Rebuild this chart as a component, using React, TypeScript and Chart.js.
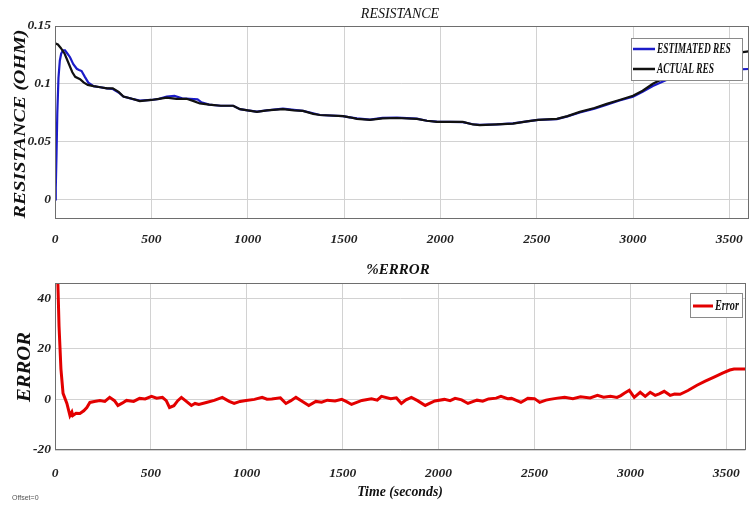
import React, { useEffect, useRef } from "react";
import { Chart, registerables } from "chart.js";

Chart.register(...registerables);

const xTicks = [0, 500, 1000, 1500, 2000, 2500, 3000, 3500];
const resTicks = [0, 0.05, 0.1, 0.15];
const errTicks = [-20, 0, 20, 40];

const actualTime = [0, 15, 30, 50, 70, 90, 105, 130, 150, 170, 200, 235, 270, 300, 330, 355, 400, 440, 500, 540, 580, 630, 683, 720, 752, 800, 860, 925, 960, 1000, 1048, 1100, 1183, 1240, 1287, 1340, 1375, 1495, 1530, 1567, 1635, 1700, 1775, 1878, 1930, 1982, 2117, 2169, 2205, 2294, 2377, 2450, 2507, 2605, 2660, 2724, 2800, 2864, 2930, 3000, 3050, 3103, 3176, 3250, 3320, 3400, 3480, 3550, 3600];
const actualRes = [0.135, 0.134, 0.131, 0.126, 0.118, 0.11, 0.106, 0.104, 0.101, 0.099, 0.098, 0.097, 0.096, 0.096, 0.093, 0.089, 0.087, 0.085, 0.086, 0.087, 0.088, 0.087, 0.087, 0.085, 0.083, 0.082, 0.081, 0.081, 0.078, 0.077, 0.0757, 0.077, 0.078, 0.077, 0.0765, 0.074, 0.073, 0.072, 0.071, 0.0696, 0.0687, 0.07, 0.0704, 0.0696, 0.068, 0.067, 0.067, 0.0648, 0.0643, 0.0648, 0.0655, 0.0675, 0.0687, 0.0696, 0.072, 0.0757, 0.079, 0.0826, 0.086, 0.0896, 0.094, 0.1, 0.106, 0.11, 0.114, 0.119, 0.123, 0.127, 0.128];

const estTime = [0, 4, 8, 12, 18, 25, 32, 42, 52, 65, 78, 95, 113, 125, 138, 155, 173, 200, 235, 270, 300, 330, 355, 400, 440, 500, 540, 580, 620, 660, 700, 740, 760, 800, 860, 925, 960, 1000, 1048, 1100, 1183, 1240, 1287, 1340, 1375, 1495, 1530, 1567, 1635, 1700, 1775, 1878, 1930, 1982, 2117, 2169, 2205, 2294, 2377, 2450, 2507, 2605, 2660, 2724, 2800, 2864, 2930, 3000, 3050, 3103, 3176, 3250, 3320, 3400, 3480, 3550, 3600];
const estRes = [0, 0.01, 0.04, 0.075, 0.105, 0.12, 0.126, 0.129, 0.129, 0.126, 0.123, 0.117, 0.113, 0.112, 0.111, 0.106, 0.101, 0.098, 0.097, 0.096, 0.0955, 0.0925, 0.089, 0.087, 0.0855, 0.086, 0.087, 0.089, 0.0895, 0.0875, 0.087, 0.0865, 0.084, 0.082, 0.081, 0.081, 0.078, 0.077, 0.076, 0.077, 0.0785, 0.0775, 0.0765, 0.0745, 0.073, 0.072, 0.071, 0.07, 0.069, 0.0705, 0.0708, 0.0698, 0.068, 0.0672, 0.0668, 0.065, 0.0645, 0.0648, 0.0657, 0.0675, 0.0688, 0.0695, 0.0718, 0.0752, 0.0785, 0.082, 0.0855, 0.0888, 0.093, 0.098, 0.1035, 0.1075, 0.109, 0.1105, 0.1115, 0.1125, 0.1128];

const errTime = [0, 10, 21, 31, 42, 62, 78, 88, 93, 110, 130, 150, 166, 182, 205, 234, 260, 285, 310, 328, 350, 373, 410, 441, 470, 503, 530, 560, 580, 597, 620, 640, 659, 680, 711, 730, 750, 789, 830, 872, 908, 934, 965, 996, 1040, 1080, 1105, 1130, 1175, 1204, 1230, 1256, 1290, 1323, 1360, 1390, 1420, 1460, 1495, 1520, 1546, 1600, 1650, 1680, 1702, 1750, 1780, 1806, 1830, 1858, 1890, 1930, 1980, 2030, 2060, 2086, 2120, 2153, 2200, 2230, 2260, 2300, 2325, 2360, 2380, 2429, 2465, 2500, 2527, 2560, 2580, 2620, 2657, 2700, 2740, 2790, 2828, 2860, 2896, 2930, 2950, 2968, 2994, 3020, 3051, 3077, 3103, 3129, 3150, 3176, 3207, 3230, 3259, 3300, 3347, 3390, 3436, 3480, 3518, 3540, 3600];
const errValues = [100, 60, 29, 12, 2.4, -1.6, -6.4, -5, -6.4, -5.5, -5.6, -4.5, -3.2, -1.2, -0.8, -0.4, -0.8, 0.8, -0.5, -2.4, -1.5, -0.4, -0.8, 0.4, 0.2, 1.2, 0.5, 0.8, -0.5, -3.2, -2.5, -0.5, 0.8, -0.5, -2.4, -1.6, -2, -1.2, -0.4, 0.8, -0.8, -1.6, -0.8, -0.4, 0, 0.8, 0.1, 0.2, 0.6, -1.6, -0.5, 0.8, -0.8, -2.4, -0.8, -1.1, -0.3, -0.6, 0, -0.9, -2, -0.4, 0.2, -0.3, 1.2, 0.3, 0.6, -1.6, -0.2, 0.8, -0.5, -2.4, -0.6, 0, -0.5, 0.4, -0.2, -1.6, -0.3, -0.7, 0.2, 0.5, 1.2, 0.3, 0.4, -1.2, 0.4, 0.3, -1.2, -0.3, 0, 0.5, 0.8, 0.3, 1, 0.6, 1.6, 0.9, 1.2, 0.8, 1.5, 2.4, 3.6, 0.8, 2.8, 1.2, 2.8, 1.6, 2.2, 3.2, 1.6, 2.1, 2, 3.5, 5.6, 7.2, 8.8, 10.4, 11.6, 12, 12];

const SERIF = "'Liberation Serif', 'Times New Roman', serif";
const GRID = "#d2d2d2";
const FRAME = "#6e6e6e";
const TICK_FONT = { family: SERIF, size: 13.5, style: "italic" as const, weight: "bold" as const };

const pts = (xs: number[], ys: number[]) => xs.map((x, i) => ({ x, y: ys[i] }));

function drawText(ctx: CanvasRenderingContext2D, text: string, x: number, y: number, font: string, opts: { rotate?: boolean; align?: CanvasTextAlign; sx?: number; color?: string } = {}) {
  ctx.save();
  ctx.translate(x, y);
  if (opts.rotate) ctx.rotate(-Math.PI / 2);
  ctx.scale(opts.sx ?? 1, 1);
  ctx.font = font;
  ctx.fillStyle = opts.color ?? "#111";
  ctx.textAlign = opts.align ?? "center";
  ctx.textBaseline = "middle";
  ctx.fillText(text, 0, 0);
  ctx.restore();
}

const framePlugin = {
  id: "frame",
  afterDraw(chart: any) {
    const { ctx, chartArea: a } = chart;
    ctx.save();
    ctx.strokeStyle = FRAME;
    ctx.lineWidth = 1;
    ctx.strokeRect(Math.round(a.left) + 0.5, Math.round(a.top) + 0.5, Math.round(a.right - a.left) - 1, Math.round(a.bottom - a.top) - 1);
    ctx.restore();
  },
};

function legendBox(ctx: CanvasRenderingContext2D, x: number, y: number, w: number, h: number) {
  ctx.save();
  ctx.fillStyle = "#fff";
  ctx.fillRect(x, y, w, h);
  ctx.strokeStyle = "#8a8a8a";
  ctx.lineWidth = 1;
  ctx.strokeRect(x + 0.5, y + 0.5, w, h);
  ctx.restore();
}

function sample(ctx: CanvasRenderingContext2D, x1: number, x2: number, y: number, color: string, w: number) {
  ctx.save();
  ctx.strokeStyle = color;
  ctx.lineWidth = w;
  ctx.beginPath();
  ctx.moveTo(x1, y);
  ctx.lineTo(x2, y);
  ctx.stroke();
  ctx.restore();
}

const topDecor = {
  id: "topDecor",
  afterDatasetsDraw(chart: any) {
    const ctx = chart.ctx as CanvasRenderingContext2D;
    legendBox(ctx, 631, 38, 111, 42);
    sample(ctx, 633, 655, 49, "#1c1cc8", 2.5);
    sample(ctx, 633, 655, 69, "#111", 2.5);
    drawText(ctx, "ESTIMATED RES", 657, 49, `italic bold 14px ${SERIF}`, { align: "left", sx: 0.67 });
    drawText(ctx, "ACTUAL RES", 657, 69, `italic bold 14px ${SERIF}`, { align: "left", sx: 0.67 });
  },
  afterDraw(chart: any) {
    const ctx = chart.ctx as CanvasRenderingContext2D;
    drawText(ctx, "RESISTANCE", 400, 14, `italic 14px ${SERIF}`);
    drawText(ctx, "RESISTANCE (OHM)", 21, 124, `italic bold 17px ${SERIF}`, { rotate: true, sx: 1.18 });
  },
};

const bottomDecor = {
  id: "bottomDecor",
  afterDatasetsDraw(chart: any) {
    const ctx = chart.ctx as CanvasRenderingContext2D;
    legendBox(ctx, 690, 43, 52, 24);
    sample(ctx, 693, 713, 56, "#e30000", 3);
    drawText(ctx, "Error", 715, 56, `italic bold 14px ${SERIF}`, { align: "left", sx: 0.73 });
  },
  afterDraw(chart: any) {
    const ctx = chart.ctx as CanvasRenderingContext2D;
    drawText(ctx, "%ERROR", 398, 20, `italic bold 15px ${SERIF}`);
    drawText(ctx, "ERROR", 25, 117, `italic bold 18px ${SERIF}`, { rotate: true, sx: 1.15 });
    drawText(ctx, "Time (seconds)", 400, 242, `italic bold 15px ${SERIF}`, { sx: 0.92 });
    drawText(ctx, "Offset=0", 12, 248, `7px 'Liberation Sans', sans-serif`, { align: "left", color: "#555" });
  },
};

function makeOptions(yMin: number, yMax: number, yTicks: number[], padTop: number, xHeight: number, xPad: number) {
  return {
    responsive: false,
    animation: false as const,
    events: [],
    layout: { padding: { top: padTop, right: 6, left: 0, bottom: 0 } },
    plugins: { legend: { display: false }, tooltip: { enabled: false }, title: { display: false } },
    scales: {
      x: {
        type: "linear" as const,
        min: 0,
        max: 3600,
        afterBuildTicks: (s: any) => { s.ticks = xTicks.map((v) => ({ value: v })); },
        afterFit: (s: any) => { s.height = xHeight; },
        grid: { color: GRID, drawTicks: false, lineWidth: 1 },
        border: { display: false },
        ticks: { padding: xPad, color: "#222", font: TICK_FONT, maxRotation: 0, autoSkip: false, callback: (v: any) => String(v) },
      },
      y: {
        type: "linear" as const,
        min: yMin,
        max: yMax,
        afterBuildTicks: (s: any) => { s.ticks = yTicks.map((v) => ({ value: v })); },
        afterFit: (s: any) => { s.width = 55; },
        grid: { color: GRID, drawTicks: false, lineWidth: 1 },
        border: { display: false },
        ticks: { padding: 4, color: "#222", font: TICK_FONT, autoSkip: false, callback: (v: any) => String(v) },
      },
    },
  };
}

export default function App() {
  const topRef = useRef<HTMLCanvasElement>(null);
  const botRef = useRef<HTMLCanvasElement>(null);

  useEffect(() => {
    const top = new Chart(topRef.current!, {
      type: "line",
      data: {
        datasets: [
          { label: "ESTIMATED RES", data: pts(estTime, estRes), borderColor: "#1c1cc8", borderWidth: 2.2, pointRadius: 0, tension: 0, order: 2 },
          { label: "ACTUAL RES", data: pts(actualTime, actualRes), borderColor: "#111", borderWidth: 2.2, pointRadius: 0, tension: 0, order: 1 },
        ],
      },
      options: makeOptions(-0.017, 0.15, resTicks, 26, 31, 12) as any,
      plugins: [topDecor, framePlugin],
    });
    const bot = new Chart(botRef.current!, {
      type: "line",
      data: {
        datasets: [
          { label: "Error", data: pts(errTime, errValues), borderColor: "#e30000", borderWidth: 3, pointRadius: 0, tension: 0 },
        ],
      },
      options: makeOptions(-20, 46, errTicks, 33, 56, 15) as any,
      plugins: [bottomDecor, framePlugin],
    });
    return () => { top.destroy(); bot.destroy(); };
  }, []);

  return (
    <div style={{ position: "fixed", left: 0, top: 0, width: 755, height: 506, background: "#fff" }}>
      <canvas ref={topRef} width={755} height={250} style={{ position: "absolute", left: 0, top: 0 }} />
      <canvas ref={botRef} width={755} height={256} style={{ position: "absolute", left: 0, top: 250 }} />
    </div>
  );
}
